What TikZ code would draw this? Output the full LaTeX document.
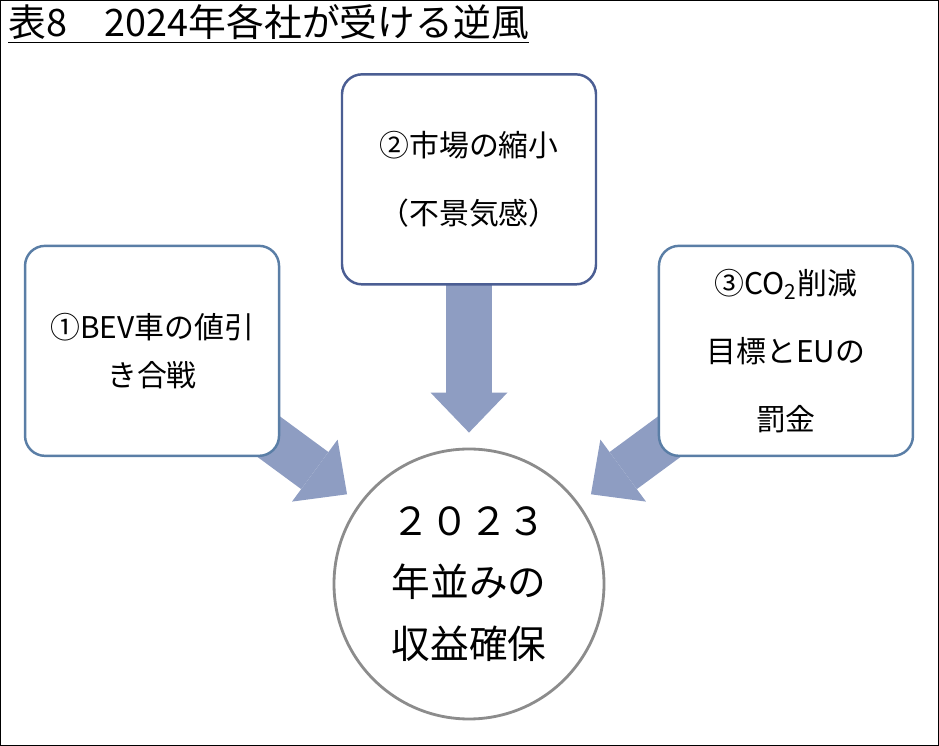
\documentclass[tikz,border=0pt]{standalone}
\usepackage{fontspec}
\setmainfont{Noto Sans CJK JP}
\usetikzlibrary{positioning,arrows.meta,backgrounds}
\definecolor{headwindArrow}{HTML}{8E9DC2}
\definecolor{headwindEdge}{HTML}{5A7EA6}
\definecolor{headwindEdgeDark}{HTML}{4B5E93}
\definecolor{headwindRing}{HTML}{8C8C8C}
\newcommand{\HeadwindBoxGap}{1.21}
\newcommand{\HeadwindBoxDrop}{3.43}

\begin{document}
\begin{tikzpicture}[
	causebox/.style={draw=headwindEdge, line width=1.4pt, fill=white, rounded corners=0.4cm, minimum width=5.08cm, minimum height=4.2cm, align=center, inner sep=0pt},
	push/.style={draw=headwindArrow, line width=0.92cm, -{Triangle[width=1.54cm, length=0.8cm, line width=0pt, fill=headwindArrow]}, shorten >=0.3cm},
	]
	\useasboundingbox (0,0) rectangle (18.78,14.92);
	\draw[line width=0.8pt] (0.01,0.01) rectangle (18.77,14.91);
	\node[anchor=north west, inner sep=0pt, font=\fontsize{21.5}{24}\selectfont] (title) at (0.16,14.84) {\underline{表8　2024年各社が受ける逆風}};
	\node[circle, draw=headwindRing, line width=1.6pt, fill=white, minimum size=5.4cm, align=center, font=\fontsize{22}{35.2}\selectfont] (goal) at (9.38,3.24) {２０２３\\年並みの\\収益確保};
	\node[causebox, draw=headwindEdgeDark, above=3.24cm of goal, font=\fontsize{17}{38.6}\selectfont] (market) {②市場の縮小\\（不景気感）};
	\node[causebox, left=\HeadwindBoxGap cm of market, yshift=-\HeadwindBoxDrop cm, font=\fontsize{17}{27.2}\selectfont] (discount) {①BEV車の値引\\き合戦};
	\node[causebox, right=\HeadwindBoxGap cm of market, yshift=-\HeadwindBoxDrop cm, font=\fontsize{17}{38.6}\selectfont] (penalty) {③CO\textsubscript{2}削減\\目標とEUの\\罰金};
	\begin{scope}[on background layer]
		\draw[push] (discount.center) -- (goal);
		\draw[push] (market.center) -- (goal);
		\draw[push] (penalty.center) -- (goal);
	\end{scope}
\end{tikzpicture}
\end{document}
